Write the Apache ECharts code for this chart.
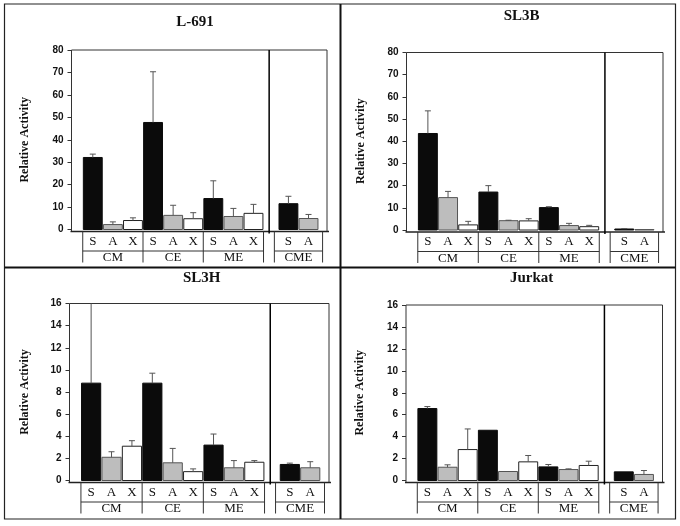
<!DOCTYPE html>
<html>
<head>
<meta charset="utf-8">
<script src="https://cdn.jsdelivr.net/npm/echarts@6/dist/echarts.min.js"></script>
<style>html,body{margin:0;padding:0;background:#fff}#c{width:680px;height:526px}</style>
</head>
<body>
<div id="c"></div>
<script>
// ---------------- data ----------------
const panelTitles = ['L-691', 'SL3B', 'SL3H', 'Jurkat'];
const groupLabels = ['CM', 'CE', 'ME', 'CME'];
const treatmentLabels = ['S', 'A', 'X'];
const yMaxes = [80, 80, 16, 16];
const yIntervals = [10, 10, 2, 2];
const yAxisName = 'Relative Activity';
// order of bars: CM S,A,X | CE S,A,X | ME S,A,X | CME S,A
const l691Values = [32.1, 2.2, 4.0, 47.7, 6.3, 4.8, 13.8, 5.8, 7.2, 11.5, 4.9];
const l691Errors = [1.5, 1.2, 1.2, 22.6, 4.5, 2.7, 7.9, 3.6, 4.0, 3.3, 1.8];
const sl3bValues = [43.5, 14.6, 2.3, 17.1, 4.2, 4.1, 10.1, 2.0, 1.5, 0.45, 0.2];
const sl3bErrors = [10.2, 2.8, 1.6, 2.9, 0.2, 1.0, 0.4, 1.0, 0.6, 0.15, 0];
const sl3hValues = [8.8, 2.1, 3.1, 8.8, 1.6, 0.8, 3.2, 1.15, 1.65, 1.45, 1.15];
const sl3hErrors = [9.0, 0.5, 0.5, 0.9, 1.3, 0.25, 1.0, 0.65, 0.15, 0.12, 0.55];
const jurkatValues = [6.56, 1.21, 2.82, 4.58, 0.82, 1.7, 1.24, 1.0, 1.37, 0.79, 0.55];
const jurkatErrors = [0.18, 0.22, 1.88, 0, 0, 0.58, 0.22, 0.06, 0.39, 0, 0.36];

const panelValues = [l691Values, sl3bValues, sl3hValues, jurkatValues];
const panelErrors = [l691Errors, sl3bErrors, sl3hErrors, jurkatErrors];

// ---------------- layout ----------------
const grids = [
  {left: 71.5, top: 50, width: 255.5, height: 179.5},
  {left: 406.5, top: 52.5, width: 256.5, height: 177.5},
  {left: 69.5, top: 303.5, width: 259.5, height: 177},
  {left: 406, top: 305, width: 256.5, height: 175.5}
];
const nameGaps = [41, 40, 39, 40];
const titlePos = [[195, 22.5], [521.7, 16.5], [201.7, 278], [531.7, 278]];

const XMAX = 12.72;
const L0 = 0.56;          // left edge of first group cell (slot units)
const SEP = 9.84;         // separator line
const CME_L = 10.1, CME_R = 12.5, CME_B0 = 10.3;
const INSET = 0.03;

function slotLeft(i) {
  if (i < 9) return L0 + 3 * Math.floor(i / 3) + (i % 3);
  return CME_B0 + (i - 9);
}
function kindOf(i) { return i < 9 ? i % 3 : i - 9; }

const fills = ['#0b0b0b', '#bdbdbd', '#ffffff'];
const strokes = ['#0b0b0b', '#555555', '#222222'];

const series = [];
const xAxes = [], yAxes = [];
const serif = '"Liberation Serif", "Times New Roman", serif';
const sans = '"Liberation Sans", Arial, sans-serif';

for (let p = 0; p < 4; p++) {
  xAxes.push({gridIndex: p, type: 'value', min: 0, max: XMAX, show: false});
  yAxes.push({
    gridIndex: p, type: 'value', min: 0, max: yMaxes[p], interval: yIntervals[p],
    axisLine: {show: false},
    axisTick: {show: true, length: 4, lineStyle: {color: '#333', width: 1}},
    splitLine: {show: false},
    axisLabel: {margin: 8, color: '#111', fontFamily: sans, fontWeight: 'bold', fontSize: 10},
    name: yAxisName, nameLocation: 'middle', nameRotate: 90, nameGap: nameGaps[p],
    nameTextStyle: {fontFamily: serif, fontWeight: 'bold', fontSize: 12, color: '#111'}
  });

  const ymax = yMaxes[p];
  // frame + table
  series.push({
    type: 'custom', xAxisIndex: p, yAxisIndex: p, silent: true, z: 1,
    data: [[0, 0]],
    encode: {x: 0, y: 1},
    renderItem: function (params, api) {
      const top = api.coord([0, ymax])[1];
      const zero = api.coord([0, 0])[1];
      const xl = api.coord([0, 0])[0];
      const xr = api.coord([XMAX, 0])[0];
      const ax = zero + 2;
      const xs = v => api.coord([v, 0])[0];
      const lineSt = {stroke: '#333', lineWidth: 1};
      const ch = [];
      const L = (x1, y1, x2, y2, st) => ch.push({type: 'line', shape: {x1, y1, x2, y2}, style: st || lineSt});
      // box
      L(xl, top, xr, top);
      L(xl, top, xl, ax);
      L(xr, top, xr, ax);
      L(xl - 1, ax, xr + 2, ax, {stroke: '#222', lineWidth: 1.3});
      // separator
      L(xs(SEP), top, xs(SEP), ax + 2, {stroke: '#000', lineWidth: 1.5});
      // table
      const rowY = zero + 21.5, botY = zero + 33;
      const cells = [[L0, L0 + 3], [L0 + 3, L0 + 6], [L0 + 6, L0 + 9], [CME_L, CME_R]];
      const bounds = [L0, L0 + 3, L0 + 6, L0 + 9, CME_L, CME_R];
      bounds.forEach(b => L(xs(b), ax, xs(b), botY, {stroke: '#333', lineWidth: 1}));
      L(xs(L0), rowY, xs(L0 + 9), rowY, {stroke: '#333', lineWidth: 1});
      L(xs(CME_L), rowY, xs(CME_R), rowY, {stroke: '#333', lineWidth: 1});
      const txt = (t, x, y) => ch.push({type: 'text', style: {text: t, x, y, align: 'center', verticalAlign: 'middle', font: '13px ' + serif, fill: '#111'}});
      for (let i = 0; i < 11; i++) {
        txt(treatmentLabels[kindOf(i)], xs(slotLeft(i) + 0.5), zero + 12);
      }
      cells.forEach((c, g) => txt(groupLabels[g], xs((c[0] + c[1]) / 2), zero + 28.5));
      return {type: 'group', children: ch};
    }
  });

  // bars with error bars
  const vals = panelValues[p], errs = panelErrors[p];
  const data = vals.map((v, i) => [slotLeft(i), v, errs[i], kindOf(i)]);
  series.push({
    type: 'custom', xAxisIndex: p, yAxisIndex: p, silent: true, z: 2,
    data: data,
    encode: {x: 0, y: 1},
    renderItem: function (params, api) {
      const x0 = api.value(0), v = api.value(1), e = api.value(2), k = api.value(3);
      const a = api.coord([x0 + INSET, v]);
      const b = api.coord([x0 + 1 - INSET, 0]);
      const ch = [{
        type: 'rect',
        shape: {x: a[0], y: a[1], width: b[0] - a[0], height: b[1] - a[1]},
        style: {fill: fills[k], stroke: strokes[k], lineWidth: 1}
      }];
      if (e > 0) {
        const topVal = Math.min(v + e, ymax);
        const pt = api.coord([x0 + 0.5, topVal]);
        const pb = api.coord([x0 + 0.5, v]);
        ch.push({type: 'line', shape: {x1: pt[0], y1: pb[1], x2: pt[0], y2: pt[1]}, style: {stroke: '#555', lineWidth: 1}});
        if (v + e <= ymax) {
          ch.push({type: 'line', shape: {x1: pt[0] - 3, y1: pt[1], x2: pt[0] + 3, y2: pt[1]}, style: {stroke: '#555', lineWidth: 1}});
        }
      }
      return {type: 'group', children: ch};
    }
  });
}

const graphics = [
  {type: 'rect', shape: {x: 4.5, y: 4, width: 671, height: 515}, style: {fill: null, stroke: '#222', lineWidth: 1.2}, silent: true},
  {type: 'line', shape: {x1: 340.5, y1: 4, x2: 340.5, y2: 519}, style: {stroke: '#111', lineWidth: 2}, silent: true},
  {type: 'line', shape: {x1: 4.5, y1: 267.5, x2: 675.5, y2: 267.5}, style: {stroke: '#111', lineWidth: 2}, silent: true}
];
panelTitles.forEach((t, p) => {
  graphics.push({type: 'text', x: titlePos[p][0], y: titlePos[p][1], silent: true,
    style: {text: t, align: 'center', verticalAlign: 'middle', font: 'bold 15px ' + serif, fill: '#111'}});
});

const chart = echarts.init(document.getElementById('c'), null, {renderer: 'canvas'});
chart.setOption({
  animation: false,
  backgroundColor: '#fff',
  grid: grids.map(g => Object.assign({containLabel: false}, g)),
  xAxis: xAxes,
  yAxis: yAxes,
  series: series,
  graphic: graphics
});
</script>
</body>
</html>
